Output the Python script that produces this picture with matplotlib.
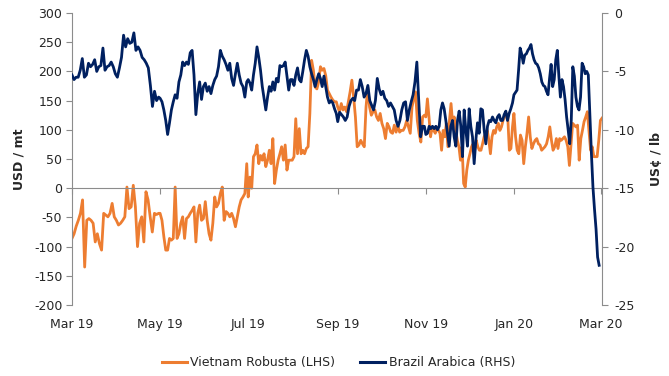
import numpy as np
import pandas as pd
import matplotlib
matplotlib.use('Agg')
import matplotlib.pyplot as plt
import matplotlib.dates as mdates
from matplotlib.lines import Line2D

plt.rcParams['font.family'] = ['DejaVu Sans']
plt.rcParams['axes.unicode_minus'] = False

# Vietnam Robusta differential, USD/mt (left axis), two months at a time
robusta_mar_apr = [-86, -78, -65, -55, -43, -20, -135, -55, -52, -55, -60, -92, -78, -95, -106,
                   -43, -46, -49, -43, -26, -49, -55, -63, -60, -55, -49, 2, -35, -32, 5, -32,
                   -100, -60, -49, -92, -6, -20, -49, -75, -43, -45, -43]
robusta_may_jun = [-43, -55, -83, -106, -106, -86, -89, -86, 2, -86, -78, -60, -49, -86, -52, -49,
                   -43, -38, -32, -92, -43, -29, -55, -52, -23, -55, -78, -89, -60, -15, -32, -26,
                   -9, 2, -55, -40, -43, -49, -43, -52, -66, -49, -32, -20, -15, -9, 42]
robusta_jul_aug = [-15, 19, 0, 54, 59, 74, 42, 56, 48, 59, 37, 48, 65, 42, 85, 8, 31, 48, 59, 71,
                   48, 74, 31, 48, 48, 48, 54, 119, 59, 102, 59, 65, 59, 68, 71, 128, 219, 202, 173,
                   170, 182, 208, 202, 205, 193, 168, 162, 156, 151, 148, 148]
robusta_sep_oct = [139, 131, 145, 134, 139, 131, 148, 165, 185, 156, 122, 71, 74, 82, 76, 71, 139,
                   173, 139, 125, 131, 134, 122, 116, 128, 111, 102, 85, 111, 105, 96, 94, 108, 96,
                   108, 96, 99, 99, 105, 116, 105, 94, 139, 153, 165, 116, 94, 79, 122, 125]
robusta_nov_dec = [122, 153, 122, 88, 105, 99, 94, 105, 99, 94, 65, 99, 88, 111, 71, 116, 145, 111,
                   122, 99, 82, 71, 48, 71, 8, 2, 31, 48, 59, 71, 76, 65, 82, 71, 65, 65, 76, 88, 94,
                   99, 82, 59, 88, 99, 94, 105, 111, 99, 105, 116, 122, 128, 122, 65, 68, 105]
robusta_jan_feb = [128, 88, 65, 59, 91, 82, 42, 71, 94, 122, 88, 68, 76, 82, 85, 76, 74, 65, 68,
                   71, 76, 88, 105, 82, 65, 71, 85, 68, 85, 82, 85, 88, 82, 71, 39, 76, 111, 108,
                   105, 108, 48, 85, 99, 114, 122, 131, 99, 65, 71, 54, 54, 54, 82, 116, 120]

# Brazil Arabica differential, US cents/lb (right axis)
arabica_mar_apr = [-5.3, -5.7, -5.5, -5.5, -4.9, -3.9, -5.5, -5.3, -4.3, -4.6, -4.4, -4.0, -5.0,
                   -4.6, -4.5, -3.0, -4.9, -4.6, -4.5, -4.2, -4.6, -5.2, -5.5, -4.7, -3.8, -1.9,
                   -2.9, -2.2, -2.6, -2.5, -1.7, -3.2, -2.9, -3.2, -3.8, -4.0, -4.3, -4.7, -6.2,
                   -8.0, -6.7, -7.5, -7.2]
arabica_may_jun = [-7.3, -7.6, -8.3, -9.2, -10.4, -9.4, -8.3, -7.6, -7.0, -7.3, -5.9, -5.3, -4.2,
                   -4.5, -4.2, -4.4, -3.4, -3.2, -5.3, -8.7, -6.9, -5.9, -7.4, -6.3, -6.0, -6.7,
                   -6.3, -6.9, -6.2, -5.7, -5.4, -4.6, -3.2, -3.7, -4.0, -4.4, -4.9, -4.3, -5.6,
                   -6.2, -5.2, -4.3, -5.3, -6.0, -6.3, -7.2, -5.9]
arabica_jul_aug = [-5.7, -6.0, -6.6, -5.3, -4.3, -2.9, -3.8, -4.9, -6.3, -7.3, -8.3, -7.2, -6.3,
                   -6.7, -5.9, -6.6, -5.6, -5.9, -4.5, -4.6, -4.5, -4.2, -5.4, -6.6, -5.7, -5.7,
                   -6.2, -5.3, -4.7, -5.7, -5.9, -5.0, -4.0, -3.2, -3.7, -4.6, -5.2, -5.7, -6.3,
                   -5.7, -5.2, -5.6, -6.3, -5.4, -6.3, -7.2, -7.7, -7.5, -7.7, -8.2, -8.6]
arabica_sep_oct = [-9.3, -8.5, -8.7, -8.9, -9.2, -8.9, -8.0, -7.5, -7.3, -7.5, -6.6, -6.6, -5.7,
                   -6.3, -7.2, -6.9, -6.2, -7.5, -7.9, -8.3, -7.5, -5.6, -6.5, -7.0, -6.7, -7.3,
                   -7.5, -8.0, -7.7, -8.0, -8.3, -9.2, -9.7, -9.2, -8.3, -7.7, -7.6, -9.2, -8.3,
                   -7.6, -7.0, -5.9, -4.2, -7.5, -10.6, -9.7, -9.7]
arabica_nov_dec = [-10.4, -10.3, -9.7, -9.9, -9.7, -9.9, -9.7, -10.0, -9.7, -8.3, -7.7, -8.2,
                   -9.2, -10.3, -11.4, -9.7, -9.2, -10.6, -11.4, -9.2, -8.4, -9.7, -12.3, -8.3,
                   -10.0, -11.4, -8.2, -9.7, -10.6, -12.9, -10.9, -9.4, -10.3, -8.2, -8.3, -10.0,
                   -11.2, -9.7, -9.2, -9.3, -8.9, -9.2, -9.4, -8.9, -8.7, -9.2, -9.2, -8.7, -8.4,
                   -9.2, -8.6, -8.2, -7.7]
arabica_jan_feb = [-7.0, -6.8, -6.6, -4.9, -3.0, -3.5, -4.3, -3.6, -3.5, -3.2, -3.0, -2.7, -3.5,
                   -4.0, -4.3, -4.4, -4.7, -5.2, -5.9, -6.2, -6.3, -6.7, -7.0, -5.6, -4.4, -6.3,
                   -5.7, -4.0, -3.2, -5.4, -7.2, -5.7, -6.3, -7.4, -8.9, -10.0, -11.2, -9.2, -4.6,
                   -5.4, -7.2, -8.0, -8.3, -7.2, -4.3, -4.6, -5.2, -5.0, -5.3, -8.6, -12.0, -14.9,
                   -16.8, -18.5, -20.9, -21.6]

month_ticks = [1, 3, 5, 7, 9, 11]
orange = '#ED7D31'
navy = '#002060'
grey = '#8C8C8C'
txt = '#262626'


def spread(vals, start, end):
    # daily quotes spread evenly over the two-month window
    return pd.Series(vals, index=pd.date_range(start, end, periods=len(vals)))


robusta = pd.concat([
    spread(robusta_mar_apr, '2019-03-01', '2019-04-30'),
    spread(robusta_may_jun, '2019-05-01', '2019-06-30'),
    spread(robusta_jul_aug, '2019-07-01', '2019-08-31'),
    spread(robusta_sep_oct, '2019-09-01', '2019-10-31'),
    spread(robusta_nov_dec, '2019-11-01', '2019-12-31'),
    spread(robusta_jan_feb, '2020-01-01', '2020-03-02'),
])
arabica = pd.concat([
    spread(arabica_mar_apr, '2019-03-01', '2019-04-30'),
    spread(arabica_may_jun, '2019-05-01', '2019-06-30'),
    spread(arabica_jul_aug, '2019-07-01', '2019-08-31'),
    spread(arabica_sep_oct, '2019-09-01', '2019-10-31'),
    spread(arabica_nov_dec, '2019-11-01', '2019-12-31'),
    spread(arabica_jan_feb, '2020-01-01', '2020-02-29'),
])

fig = plt.figure(figsize=(6.69, 3.76), dpi=100)
ax = fig.add_axes([0.1076, 0.1888, 0.7923, 0.7766])
ax2 = ax.twinx()

ax.plot(robusta.index, robusta.values, color=orange, lw=2.0, solid_joinstyle='round')
ax2.plot(arabica.index, arabica.values, color=navy, lw=2.0, solid_joinstyle='round')

ax.set_xlim(pd.Timestamp('2019-03-01'), pd.Timestamp('2020-03-02'))
ax.set_ylim(-200, 300)
ax.set_yticks(np.arange(-200, 301, 50))
ax2.set_ylim(-25, 0)
ax2.set_yticks(np.arange(-25, 1, 5))

# x axis runs along zero, month labels sit under the plot
ax.spines['bottom'].set_position(('data', 0))
ax.xaxis.set_major_locator(mdates.MonthLocator(bymonth=month_ticks))
ax.tick_params(axis='x', direction='out', length=4, color=grey, labelbottom=False)
sec = ax.secondary_xaxis('bottom')
sec.xaxis.set_major_locator(mdates.MonthLocator(bymonth=month_ticks))
sec.xaxis.set_major_formatter(mdates.DateFormatter('%b %y'))
sec.spines['bottom'].set_visible(False)
sec.tick_params(length=0, pad=9, labelsize=9, labelcolor=txt)

for s in ['top', 'right']:
    ax.spines[s].set_visible(False)
for s in ['top', 'left', 'bottom']:
    ax2.spines[s].set_visible(False)
ax.spines['left'].set_color(grey)
ax.spines['bottom'].set_color(grey)
ax2.spines['right'].set_color(grey)

ax.tick_params(axis='y', direction='out', length=4, color=grey, labelsize=9,
               labelcolor=txt, pad=3)
ax2.tick_params(axis='y', direction='out', length=4, color=grey, labelsize=9,
                labelcolor=txt, pad=5)

ax.set_ylabel('USD / mt', fontsize=9, fontweight='bold', color=txt)
ax.yaxis.set_label_coords(-0.088, 0.5)
ax2.set_ylabel('US¢ / lb', fontsize=9, fontweight='bold', color=txt, rotation=90)
ax2.yaxis.set_label_coords(1.09, 0.5)

handles = [Line2D([], [], color=orange, lw=2.2), Line2D([], [], color=navy, lw=2.2)]
fig.legend(handles, ['Vietnam Robusta (LHS)', 'Brazil Arabica (RHS)'], loc='center',
           bbox_to_anchor=(0.506, 0.035), ncol=2, frameon=False, fontsize=9,
           handlelength=2.0, handletextpad=0.3, columnspacing=2.0, labelcolor=txt)

fig.savefig('out.png', dpi=100)
